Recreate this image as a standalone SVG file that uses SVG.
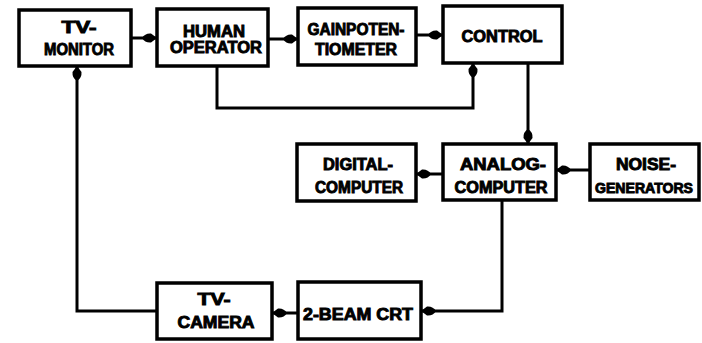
<svg xmlns="http://www.w3.org/2000/svg" width="702" height="343" viewBox="0 0 702 343">
<style>
.box{fill:#fff;stroke:#000;stroke-width:3.5}
.t{font-family:"Liberation Sans",Arial,sans-serif;font-weight:bold;font-size:16px;fill:#000;stroke:#000;stroke-width:0.9;text-anchor:middle}
.c{fill:none;stroke:#000;stroke-width:3}
</style>
<defs>
<marker id="ah" markerUnits="userSpaceOnUse" markerWidth="16" markerHeight="12" refX="15" refY="6" orient="auto">
<path d="M0,6 Q3,1 9,1.5 L15,6 L9,10.5 Q3,11 0,6 Z" fill="#000"/>
</marker>
</defs>
<rect width="702" height="343" fill="#fff"/>
<g id="connectors">
<path class="c" d="M131,38 H157" marker-end="url(#ah)"/>
<path class="c" d="M268,39 H298" marker-end="url(#ah)"/>
<path class="c" d="M416,35 H443" marker-end="url(#ah)"/>
<path class="c" d="M217,66 V108 H473 V63" marker-end="url(#ah)"/>
<path class="c" d="M528,63 V144" marker-end="url(#ah)"/>
<path class="c" d="M590,170 H556" marker-end="url(#ah)"/>
<path class="c" d="M443,174 H416" marker-end="url(#ah)"/>
<path class="c" d="M502,200 V311 H421" marker-end="url(#ah)"/>
<path class="c" d="M298,313 H272" marker-end="url(#ah)"/>
<path class="c" d="M157,311 H77 V66" marker-end="url(#ah)"/>
</g>
<g id="tv-monitor">
<rect class="box" x="19" y="10" width="112" height="56"/>
<text class="t" x="79" y="33" textLength="35" lengthAdjust="spacingAndGlyphs">TV-</text>
<text class="t" x="79" y="55" textLength="70" lengthAdjust="spacingAndGlyphs">MONITOR</text>
</g>
<g id="human-operator">
<rect class="box" x="157" y="9" width="111" height="57"/>
<text class="t" x="214" y="37" textLength="62" lengthAdjust="spacingAndGlyphs">HUMAN</text>
<text class="t" x="216" y="53" textLength="92" lengthAdjust="spacingAndGlyphs">OPERATOR</text>
</g>
<g id="gainpotentiometer">
<rect class="box" x="298" y="8" width="118" height="57"/>
<text class="t" x="356" y="35" textLength="97" lengthAdjust="spacingAndGlyphs">GAINPOTEN-</text>
<text class="t" x="356" y="55" textLength="82" lengthAdjust="spacingAndGlyphs">TIOMETER</text>
</g>
<g id="control">
<rect class="box" x="443" y="6" width="119" height="57"/>
<text class="t" x="502" y="42" textLength="81" lengthAdjust="spacingAndGlyphs">CONTROL</text>
</g>
<g id="digital-computer">
<rect class="box" x="297" y="144" width="119" height="57"/>
<text class="t" x="358" y="170" textLength="70" lengthAdjust="spacingAndGlyphs">DIGITAL-</text>
<text class="t" x="359" y="193" textLength="88" lengthAdjust="spacingAndGlyphs">COMPUTER</text>
</g>
<g id="analog-computer">
<rect class="box" x="443" y="144" width="113" height="56"/>
<text class="t" x="503" y="170" textLength="86" lengthAdjust="spacingAndGlyphs">ANALOG-</text>
<text class="t" x="501" y="193" textLength="93" lengthAdjust="spacingAndGlyphs">COMPUTER</text>
</g>
<g id="noise-generators">
<rect class="box" x="590" y="144" width="109" height="56"/>
<text class="t" x="646" y="170" textLength="60" lengthAdjust="spacingAndGlyphs">NOISE-</text>
<text class="t" x="644" y="193" style="font-size:14px" textLength="98" lengthAdjust="spacingAndGlyphs">GENERATORS</text>
</g>
<g id="tv-camera">
<rect class="box" x="157" y="283" width="115" height="56"/>
<text class="t" x="214" y="305" textLength="33" lengthAdjust="spacingAndGlyphs">TV-</text>
<text class="t" x="216" y="328" textLength="77" lengthAdjust="spacingAndGlyphs">CAMERA</text>
</g>
<g id="beam-crt">
<rect class="box" x="298" y="282" width="123" height="57"/>
<text class="t" x="358" y="320" textLength="110" lengthAdjust="spacingAndGlyphs">2-BEAM CRT</text>
</g>
</svg>
